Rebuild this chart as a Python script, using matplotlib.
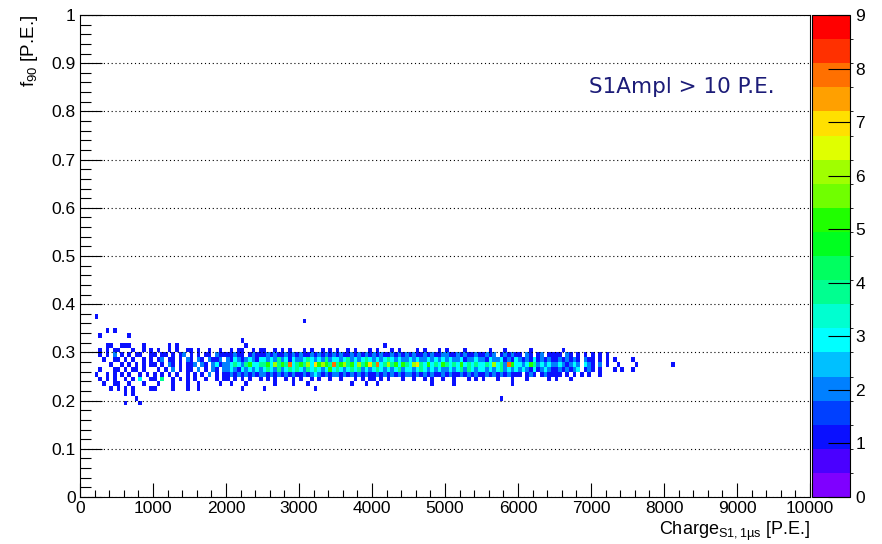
import numpy as np
import matplotlib
matplotlib.use("Agg")
import matplotlib.pyplot as plt
from matplotlib.colors import ListedColormap, BoundaryNorm
from matplotlib.ticker import MultipleLocator

plt.rcParams["font.family"] = ["Liberation Sans", "DejaVu Sans"]
plt.rcParams["mathtext.fontset"] = "custom"
plt.rcParams["mathtext.rm"] = "Liberation Sans"
plt.rcParams["mathtext.it"] = "Liberation Sans:italic"

# 2D histogram: x bins of 50 P.E., y bins of 0.01.
# key = lower y edge in hundredths; each string = counts per x bin, '.' = empty,
# written in chunks of 10 bins (500 P.E.) separated by spaces.
X_BIN = 50
ROWS = {
    37: "....1.....",
    36: ".......... .......... .......... .......... .......... .......... .1",
    34: ".......1.1",
    33: ".....1.... ...1......",
    32: ".......... .......... .......... .......... ....1.....",
    31: ".......11. .111...1.. ....1.1... .......... .....1.... .......... .......... .......... ...1......",
    30: ".....1.1.1 1...1..1.1 .1..1.1..1 1.1..1..1. .1.11..1.1 1..1.1.1.. .1.1..1.1. 1..1.1...1 .1...1.1.. ..1.1...1. 1....1.... ..1...1... ...1...... ..1.......",
    29: ".....1.1.2 .1.1.11..1 1.11.1.12. 1.1.11.211 11211.1211 1212112121 2112121212 1211212121 2121121212 1211212112 2112121121 1212.12121 1.21.12.11 11.21.1.1. 1.1.1.....",
    28: "......1..1 1.1.1..1.1 .12.11.1.2 1.21.2112. 2132123213 3232423132 2343232423 3234232343 2323432322 3232232323 2322312232 2132231213 2121312121 1212121.21 1.1.1.1... .1........",
    27: "........1. .1.1.1.1.1 1.1.21.1.1 12.21.2312 2343245334 4536454834 5463756548 4564536457 4834645354 3674353435 4343534343 3436342853 3235423232 2321232.32 1.2.1..1.. ..1....... ..1.",
    26: ".....1...1 1.1.11.1.. .1.1.2.1.1 1.2.1.21.2 2321323232 3432423434 3243432353 4323434232 3432323423 3234323232 2323424323 3232342323 2321312321 1212123.12 1.1...1.1. .1........",
    25: "....1..1.1 .1.1..1.1. 1.1.1.1..1 .1.1.2.1.1 1212121212 2121212121 1212321212 2121212121 1212121212 2121212112 1211212121 1212121211 1.121.1211 11.1.1.1.1 ..1.......",
    24: ".....1.1.1 ..1.1.3..1 1.4..1.1.1 .1..1..1.1 1.1.1.1..1 .1.1..1.1. 1..1.1..1. .1...1.1.1 1.1.1...1. .1..1.1..1 ..1...1.1. 1...1...1. ..1.....1. 1...1.....",
    23: "......1..1 1..1...1.. .1...1...1 ..1.....1. .1...1.... ...1....1. ..1....... ....1...1. .1........ ......1... ..1....... ........1.",
    22: "........1. 1.1.1....1 1....1...1 ..1....... ....1..... 1......... ....1.....",
    21: ".......... ..1.1.....",
    20: ".......... .....1.... .......... .......... .......... .......... .......... .......... .......... .......... .......... .....1....",
    19: ".......... ..1...1...",
}

PALETTE = ["#7f00ff", "#4a00ff", "#0a10ff", "#0040ff", "#0080ff", "#00c0ff",
           "#00ffff", "#00ffd0", "#00ff90", "#00ff60", "#00ff20", "#20ff00",
           "#70ff00", "#a0ff00", "#e0ff00", "#ffe000", "#ffa000", "#ff7000",
           "#ff3000", "#ff0000"]

x_edges = np.arange(0, 10000 + X_BIN, X_BIN)
y_edges = np.linspace(0, 1, 101)
H = np.zeros((100, len(x_edges) - 1))
for yb, s in ROWS.items():
    row = "".join(c.ljust(10, ".")[:10] for c in s.split())
    for i, ch in enumerate(row):
        if ch != ".":
            H[yb, i] = int(ch)
H = np.ma.masked_equal(H, 0)

cmap = ListedColormap(PALETTE)
norm = BoundaryNorm(np.linspace(0, 9, 21), cmap.N)

W, Hpx = 882, 544
fig = plt.figure(figsize=(W / 100, Hpx / 100), dpi=100)
ax = fig.add_axes([80 / W, 1 - 497 / Hpx, 730 / W, 482 / Hpx])
cax = fig.add_axes([812 / W, 1 - 497 / Hpx, 38 / W, 482 / Hpx])

mesh = ax.pcolormesh(x_edges, y_edges, H, cmap=cmap, norm=norm, zorder=1)
ax.set_xlim(0, 10000)
ax.set_ylim(0, 1)
ax.set_xticks(np.arange(0, 10001, 1000))
ax.set_yticks(np.round(np.arange(0, 1.01, 0.1), 1))
ax.set_yticklabels(["0"] + [f"{v:.1f}" for v in np.arange(0.1, 0.95, 0.1)] + ["1"])
ax.xaxis.set_minor_locator(MultipleLocator(200))
ax.yaxis.set_minor_locator(MultipleLocator(0.02))
ax.tick_params(axis="y", which="major", direction="in", length=15.8, width=0.8,
               labelsize=12.5, pad=3)
ax.tick_params(axis="y", which="minor", direction="in", length=7.9, width=0.8)
ax.tick_params(axis="x", which="major", direction="in", length=10, width=0.8,
               labelsize=12.5, pad=3)
ax.tick_params(axis="x", which="minor", direction="in", length=5, width=0.8)
ax.yaxis.grid(True, linestyle=(0, (1, 2.5)), color="black", lw=0.8)
for sp in ax.spines.values():
    sp.set_linewidth(0.8)

ax.text(0.952, 0.851, "S1Ampl > 10 P.E.", transform=ax.transAxes, ha="right",
        va="center", fontsize=15.5, color="#1c1c78", family=["DejaVu Sans"])

cb = fig.colorbar(mesh, cax=cax, ticks=range(10))
cb.ax.tick_params(direction="in", length=15.8, width=0.8, labelsize=12.5, pad=4)
cb.outline.set_linewidth(0.8)

fig.text(30 / W, 1 - 15 / Hpx, r"f$_{\mathrm{90}}$ [P.E.]", rotation=90,
         ha="center", va="top", fontsize=13.5)
fig.text(810 / W, 1 - 535 / Hpx, r"Charge$_{\mathrm{S1,1µs}}$ [P.E.]",
         ha="right", va="baseline", fontsize=13)

fig.savefig("out.png", dpi=100)
